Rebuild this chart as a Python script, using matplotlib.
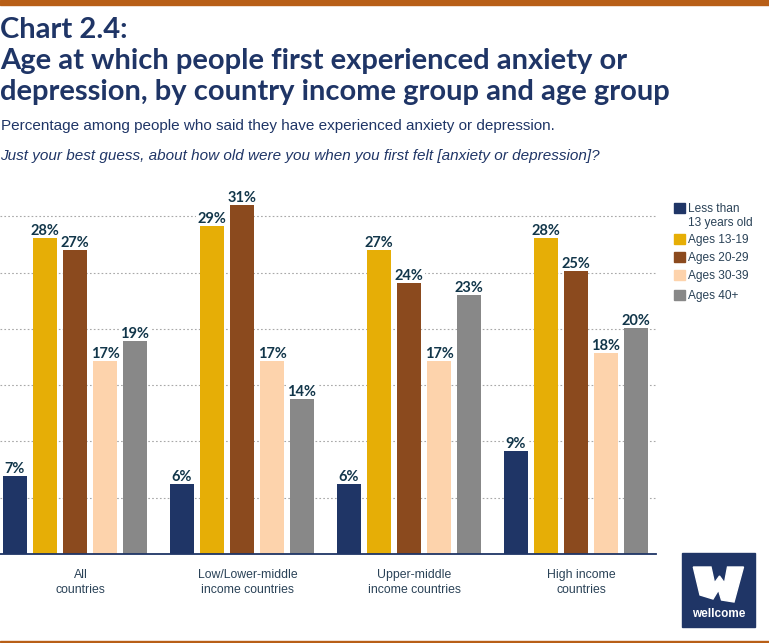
import matplotlib
matplotlib.use("Agg")
import matplotlib.pyplot as plt
from matplotlib.patches import Rectangle, Polygon
import numpy as np

W, H = 769, 643

groups = ["All\ncountries", "Low/Lower-middle\nincome countries",
          "Upper-middle\nincome countries", "High income\ncountries"]
series = ["Less than\n13 years old", "Ages 13-19", "Ages 20-29", "Ages 30-39", "Ages 40+"]
# the printed labels are these rounded
under_13 = [6.9, 6.2, 6.2, 9.15]
ages_13_19 = [28.1, 29.1, 27.0, 28.1]
ages_20_29 = [27.0, 31.0, 24.1, 25.1]
ages_30_39 = [17.1, 17.1, 17.1, 17.85]
ages_40_up = [18.9, 13.8, 23.0, 20.1]
colors = ["#1f3566", "#e6ae06", "#8b4a1e", "#fdd3ac", "#888888"]
navy = "#1f3566"
text_col = "#2a4257"
label_col = "#12364a"
rust = "#b85f17"
title_font = "Lato"
body_font = "Liberation Sans"


def fx(px):
    return px / W


def fy(py):
    return 1 - py / H


fig = plt.figure(figsize=(W / 100, H / 100), dpi=100)
ax = fig.add_axes([fx(0), fy(554), fx(656), (554 - 190) / H])

values = [under_13, ages_13_19, ages_20_29, ages_30_39, ages_40_up]
x = np.arange(len(groups))
pitch = 30 / 167
width = 24 / 167
for i, vals in enumerate(values):
    # bars above the labels, otherwise the white label box eats the bar tops
    bars = ax.bar(x + (i - 2) * pitch, vals, width, color=colors[i], zorder=5)
    labels = ax.bar_label(bars, labels=[f"{v:.0f}%" for v in vals], padding=0,
                          fontsize=10.5, fontweight="bold", family=title_font,
                          color=label_col, zorder=4)
    # gridlines stop short of the labels in the original
    for lab in labels:
        lab.set_bbox(dict(facecolor="white", edgecolor="none", pad=1))

# x range set so group centres land on the pixel positions of the original
ax.set_xlim(-75 / 167, (656 - 75) / 167)
ax.set_ylim(0, (554 - 190) / 11.26)
ax.set_yticks([5, 10, 15, 20, 25, 30])
ax.set_yticklabels([])
ax.tick_params(axis="y", length=0)
ax.grid(axis="y", color="#a8a8a8", linestyle=(0, (1.5, 2)), linewidth=0.8, zorder=0)
# the category labels sit a little right of the group centres
ax.set_xticks(x + 5.5 / 167)
ax.set_xticklabels(groups, fontsize=8.8, family=body_font, color=text_col, linespacing=1.3)
ax.tick_params(axis="x", length=0, pad=11)
ax.xaxis.grid(False)
for side in ["top", "left", "right"]:
    ax.spines[side].set_visible(False)
ax.spines["bottom"].set_color(navy)
ax.spines["bottom"].set_linewidth(1.3)
ax.spines["bottom"].set_zorder(6)

# headings
fig.text(fx(0), fy(38.5), "Chart 2.4:", fontsize=21, fontweight="bold", family=title_font, color=navy)
fig.text(fx(0), fy(69.5), "Age at which people first experienced anxiety or", fontsize=21,
         fontweight="bold", family=title_font, color=navy)
fig.text(fx(0), fy(100), "depression, by country income group and age group", fontsize=21,
         fontweight="bold", family=title_font, color=navy)
fig.text(fx(1), fy(130), "Percentage among people who said they have experienced anxiety or depression.",
         fontsize=11, family=body_font, color=navy)
fig.text(fx(0), fy(160), "Just your best guess, about how old were you when you first felt [anxiety or depression]?",
         fontsize=11, style="italic", family=body_font, color=navy)

# legend placed by hand, the row spacing is uneven
legend_y = [208, 239, 257, 275, 295]
for name, col, ly in zip(series, colors, legend_y):
    fig.patches.append(Rectangle((fx(674), fy(ly + 5)), 10.5 / W, 10.5 / H, color=col, transform=fig.transFigure))
    fig.text(fx(688), fy(ly - 5.5), name, fontsize=8.6, family=body_font, color=text_col,
             va="top", linespacing=1.3)

# top and bottom rules
fig.patches.append(Rectangle((0, fy(5)), 1, 5 / H, color=rust, transform=fig.transFigure))
fig.patches.append(Rectangle((0, fy(642)), 1, 1.5 / H, color=rust, transform=fig.transFigure))

# logo
fig.patches.append(Rectangle((fx(682), fy(627)), 73 / W, 74 / H, color=navy, transform=fig.transFigure))
w_shape = [(693.3, 567), (711, 567), (714.5, 583), (719.5, 576), (724.5, 583), (727.5, 567),
           (743.5, 567), (734, 602), (721.5, 600), (718.5, 590), (713, 599), (700, 595)]
fig.patches.append(Polygon([(fx(a), fy(b)) for a, b in w_shape], closed=True, color="white",
                           transform=fig.transFigure))
fig.text(fx(718.5), fy(617), "wellcome", fontsize=8.5, fontweight="bold", family=body_font,
         color="white", ha="center")

fig.savefig("out.png", dpi=100)
